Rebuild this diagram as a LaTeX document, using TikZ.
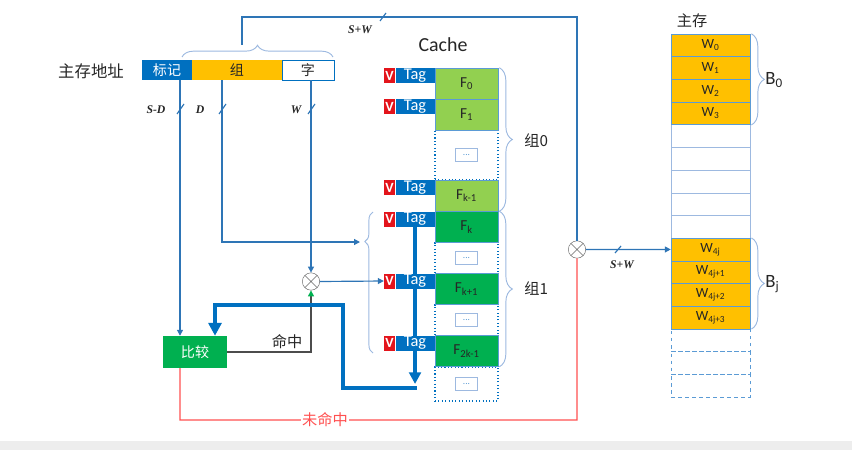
\documentclass[tikz,border=0pt]{standalone}
\usepackage{fontspec}
\setmainfont{Carlito}
\newfontfamily\cjk{Noto Sans CJK SC}
\newfontfamily\hand{Liberation Serif}
\usetikzlibrary{arrows.meta,decorations.pathreplacing,backgrounds}

\definecolor{tagblue}{HTML}{0070C0}
\definecolor{lineblue}{HTML}{2E75B6}
\definecolor{braceblue}{HTML}{9DB9E0}
\definecolor{vred}{HTML}{E3141B}
\definecolor{lgreen}{HTML}{92D050}
\definecolor{dgreen}{HTML}{00B050}
\definecolor{worange}{HTML}{FFC000}
\definecolor{missred}{HTML}{FF5050}
\definecolor{cellline}{HTML}{5B9BD5}
\definecolor{txt}{HTML}{262626}

\tikzset{
  vbox/.style={fill=vred, text=white, font=\bfseries\fontsize{12}{12}\selectfont,
    minimum width=0.33cm, minimum height=0.45cm, inner sep=0pt},
  tagbox/.style={fill=tagblue, text=white, font=\fontsize{14}{14}\selectfont,
    minimum width=1.17cm, minimum height=0.45cm, inner sep=0pt},
  fbox/.style={draw=cellline, minimum width=1.89cm, minimum height=0.93cm,
    inner sep=0pt, text=txt, font=\fontsize{13}{13}\selectfont},
  gapbox/.style={draw=tagblue, dotted, line width=0.9pt, minimum width=1.89cm, inner sep=0pt},
  dotsbox/.style={draw=braceblue, minimum width=0.66cm, minimum height=0.38cm,
    inner sep=0pt, text=cellline, font=\fontsize{8}{8}\selectfont},
  wbox/.style={draw=cellline, fill=worange, minimum width=2.37cm, minimum height=0.68cm,
    inner sep=0pt, text=txt, font=\fontsize{12}{12}\selectfont},
  ebox/.style={draw=braceblue, minimum width=2.37cm, minimum height=0.68cm, inner sep=0pt},
  addrbox/.style={minimum height=0.6cm, inner sep=0pt, font=\cjk\fontsize{12}{12}\selectfont},
  otimes/.style={circle, draw=black!60, fill=white, minimum size=0.52cm, inner sep=0pt,
    path picture={\draw[black!60]
      (path picture bounding box.south west) -- (path picture bounding box.north east)
      (path picture bounding box.north west) -- (path picture bounding box.south east);}},
  wire/.style={draw=lineblue, line width=1pt},
  bus/.style={draw=tagblue, line width=3.2pt},
  brc/.style={draw=braceblue, line width=0.8pt, decorate,
    decoration={brace, amplitude=#1}},
  brc/.default=10pt,
  lbl/.style={text=txt, inner sep=1pt},
  hand/.style={text=txt, font=\hand\itshape\bfseries\fontsize{10}{10}\selectfont},
  arr/.style={-{Triangle[length=5pt,width=5pt]}},
  bigarr/.style={-{Triangle[length=11pt,width=11pt]}},
}

\begin{document}
\begin{tikzpicture}[x=0.03cm, y=-0.03cm]
\useasboundingbox (0,0) rectangle (852,450);
\fill[black!7] (0,441) rectangle (852,450);

\node[lbl, font=\cjk\fontsize{14}{14}\selectfont] (addr) at (91,71) {主存地址};
\node[addrbox, fill=tagblue, text=white, minimum width=1.5cm] (tagf) at (167,70) {标记};
\node[addrbox, fill=worange, text=txt, minimum width=2.7cm] (setf) at (237,70) {组};
\node[addrbox, draw=tagblue, fill=white, text=txt, minimum width=1.56cm] (wordf) at (308,70) {字};
\draw[brc=10pt] (182,57) -- (333,57);

\node[lbl, font=\fontsize{17}{17}\selectfont] (cachet) at (443,45) {Cache};
\node[gapbox, minimum height=1.5cm] (g0) at (466.5,155) {};
\node[gapbox, minimum height=0.93cm] (g1) at (466.5,258) {};
\node[gapbox, minimum height=0.93cm] (g2) at (466.5,320) {};
\node[gapbox, minimum height=1.02cm] (g3) at (466.5,384) {};
\foreach \g in {g0,g1,g2,g3}
  \node[dotsbox] (d\g) at (\g) {...};
\node[fbox, fill=lgreen] (f0) at (466.5,83.5) {F\textsubscript{0}};
\node[fbox, fill=lgreen] (f1) at (466.5,114.5) {F\textsubscript{1}};
\node[fbox, fill=lgreen] (fk1) at (466.5,195.5) {F\textsubscript{k-1}};
\node[fbox, fill=dgreen] (fk) at (466.5,227) {F\textsubscript{k}};
\node[fbox, fill=dgreen] (fkp) at (466.5,289) {F\textsubscript{k+1}};
\node[fbox, fill=dgreen] (f2k) at (466.5,351) {F\textsubscript{2k-1}};
\foreach \r in {f0,f1,fk1,fk,fkp,f2k}{
  \node[tagbox, anchor=north east] (t\r) at (\r.north west) {Tag};
  \node[vbox, anchor=north east] (v\r) at (t\r.north west) {V};
}
\draw[brc=11pt] ([xshift=1pt]f0.north east) -- ([xshift=1pt]fk1.south east);
\node[lbl, anchor=west, font=\cjk\fontsize{13}{13}\selectfont] (grp0) at (523,141) {组0};
\draw[brc=11pt] ([xshift=1pt]fk.north east) -- ([xshift=1pt]f2k.south east);
\node[lbl, anchor=west, font=\cjk\fontsize{13}{13}\selectfont] (grp1) at (523,289) {组1};
\draw[draw=braceblue, line width=0.8pt, decorate,
  decoration={brace, amplitude=7pt, aspect=0.79}] (373,353) -- (373,212);

\node[lbl, font=\cjk\fontsize{13}{13}\selectfont] (memt) at (692,21) {主存};
\foreach \i in {4,...,8}
  \node[ebox] (m\i) at (710.5,{34+22.68*(\i+0.5)}) {};
\foreach \i in {13,14,15}
  \node[ebox, draw=cellline, dashed] (m\i) at (710.5,{34+22.68*(\i+0.5)}) {};
\foreach \i/\w in {0/0,1/1,2/2,3/3,9/4j,10/4j+1,11/4j+2,12/4j+3}
  \node[wbox] (m\i) at (710.5,{34+22.68*(\i+0.5)}) {W\textsubscript{\w}};
\draw[brc=11pt] ([xshift=1pt]m0.north east) -- ([xshift=1pt]m3.south east);
\node[lbl, anchor=west, font=\fontsize{16}{16}\selectfont] (b0) at (764,80) {B\textsubscript{0}};
\draw[brc=11pt] ([xshift=1pt]m9.north east) -- ([xshift=1pt]m12.south east);
\node[lbl, anchor=west, font=\fontsize{16}{16}\selectfont] (bj) at (764,284) {B\textsubscript{j}};

\node[otimes] (xl) at (311,281.5) {};
\node[otimes] (xr) at (577,249.5) {};
\node[addrbox, fill=dgreen, text=white, minimum width=1.92cm, minimum height=0.96cm] (cmp) at (195,352) {比较};

\coordinate (sws) at (242,45);
\coordinate (swt) at (242,17);
\draw[wire] (sws) -- (swt) -| (xr.north);
\draw[wire] (380,21) -- (386,13);
\node[hand] (swa) at (360,30) {S+W};
\draw[wire, arr] (xr.east) -- (m9.west);
\draw[wire] (615,253) -- (621,246);
\node[hand] (swb) at (622,265) {S+W};

\coordinate (sd) at (180,80);
\coordinate (dd) at (222,80);
\coordinate (ww) at (311,80);
\coordinate (lbt) at (360,242);
\draw[wire, arr] (sd) -- (sd |- cmp.north);
\draw[wire, arr] (dd) |- (lbt);
\draw[wire, arr] (ww) -- (xl.north);
\draw[wire, arr] (xl.east) -- (vfkp.west);
\node[hand] (lsd) at (156,110) {S-D};
\draw[wire] (177,114) -- (184,104);
\node[hand] (ld) at (200,110) {D};
\draw[wire] (219,114) -- (226,104);
\node[hand] (lw) at (296,110) {W};
\draw[wire] (308,114) -- (315,104);

\draw[draw=black!70, line width=1pt, -{Triangle[length=5pt,width=5pt,color=dgreen]}] (cmp.east) -| (xl.south);
\node[lbl, font=\cjk\fontsize{13}{13}\selectfont] (hit) at (287,342) {命中};

\coordinate (bustip) at (tfk.south |- 0,384);
\coordinate (busr) at (tfk.south |- 0,388);
\coordinate (bus1) at (343,388);
\coordinate (bus2) at (343,305);
\begin{pgfonlayer}{background}
\draw[bus, -{Triangle[length=10pt,width=10pt]}] (tfk.south) -- (bustip);
\end{pgfonlayer}
\draw[bus, bigarr] ([xshift=1.6pt]busr) -- (bus1) -- (bus2) -| ([xshift=0.6cm]cmp.north);

\coordinate (mc) at (180,420);
\draw[draw=missred, line width=1pt] ([xshift=-0.45cm]cmp.south) -- (mc) -| (xr.south);
\node[fill=white, text=missred, font=\cjk\fontsize{13}{13}\selectfont, inner sep=1pt] (miss) at (325,420) {未命中};
\end{tikzpicture}
\end{document}
